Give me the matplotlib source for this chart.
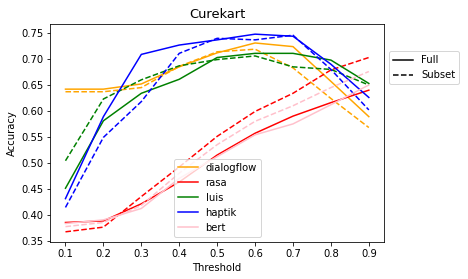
import matplotlib
matplotlib.use("Agg")
import matplotlib.pyplot as plt
from matplotlib.lines import Line2D

thresholds = [0.1, 0.2, 0.3, 0.4, 0.5, 0.6, 0.7, 0.8, 0.9]

names = ["dialogflow", "rasa", "luis", "haptik", "bert"]
colors = ["orange", "red", "green", "blue", "pink"]

full = {
    "dialogflow": [0.642, 0.642, 0.652, 0.685, 0.712, 0.731, 0.724, 0.657, 0.589],
    "rasa":       [0.385, 0.388, 0.421, 0.463, 0.515, 0.557, 0.590, 0.616, 0.640],
    "luis":       [0.451, 0.581, 0.634, 0.661, 0.703, 0.711, 0.711, 0.698, 0.653],
    "haptik":     [0.431, 0.589, 0.709, 0.727, 0.737, 0.748, 0.744, 0.690, 0.626],
    "bert":       [0.383, 0.390, 0.412, 0.470, 0.512, 0.554, 0.575, 0.612, 0.650],
}

subset = {
    "dialogflow": [0.637, 0.637, 0.645, 0.686, 0.714, 0.719, 0.683, 0.624, 0.568],
    "rasa":       [0.367, 0.376, 0.435, 0.492, 0.551, 0.599, 0.634, 0.679, 0.703],
    "luis":       [0.504, 0.623, 0.660, 0.687, 0.699, 0.706, 0.685, 0.680, 0.650],
    "haptik":     [0.414, 0.549, 0.618, 0.711, 0.740, 0.737, 0.746, 0.680, 0.602],
    "bert":       [0.377, 0.385, 0.418, 0.480, 0.535, 0.580, 0.610, 0.645, 0.676],
}

fig = plt.figure(figsize=(6.5, 3.875), dpi=72)
ax = fig.add_axes([0.1075, 0.1337, 0.713, 0.7793])

for name, c in zip(names, colors):
    ax.plot(thresholds, full[name], color=c, linestyle="-", label=name)
    ax.plot(thresholds, subset[name], color=c, linestyle="--")

ax.set_title("Curekart", fontsize=13)
ax.set_xlabel("Threshold")
ax.set_ylabel("Accuracy")

leg1 = ax.legend(loc="lower center")
ax.add_artist(leg1)
handles = [Line2D([0], [0], color="black", linestyle="-"),
           Line2D([0], [0], color="black", linestyle="--")]
ax.legend(handles, ["Full", "Subset"], loc="upper left", bbox_to_anchor=(1, 0.9))

fig.savefig("out.png", dpi=72)
